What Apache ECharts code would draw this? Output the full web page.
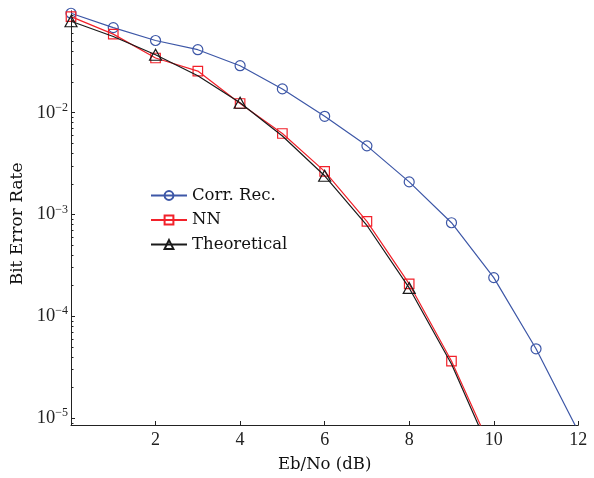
<!DOCTYPE html>
<html><head><meta charset="utf-8">
<script src="https://cdn.jsdelivr.net/npm/echarts@6/dist/echarts.min.js"></script>
<style>html,body{margin:0;padding:0;background:#fff}#c{width:594px;height:478px}</style>
</head><body><div id="c"></div>
<script>
// ---- data ----
const ebno = [0,1,2,3,4,5,6,7,8,9,10,11,12];
const corrRec = [0.0946,0.0684,0.0511,0.0415,0.0289,0.0171,0.0092,0.00472,0.00209,0.00083,0.00024,4.8e-5,7.4e-6];
const nn = [0.0877,0.059,0.0344,0.0256,0.0123,0.00624,0.00265,0.000857,0.000208,3.64e-5,4.4e-6];
const theory = [0.079,0.056,0.037,0.023,0.0125,0.0059,0.0024,0.00078,0.00019,3.4e-5,3.9e-6];
const theoryMarked = [0,2,4,6,8];
const xTickLabels = [2,4,6,8,10,12];
const yMajorTicks = [1e-5,1e-4,1e-3,1e-2];
const yMin = 8.57e-6, yMax = 0.1;

const minorTicks = [];
for (let k = -6; k <= -2; k++) {
  for (let m = 2; m <= 9; m++) {
    const v = m * Math.pow(10, k);
    if (v > yMin && v < yMax) minorTicks.push(v);
  }
}

const BLUE = '#3d57a7', RED = '#f2212a', BLACK = '#1a1a1a';
const SERIF = 'DejaVu Serif';
const TICKFONT = 'Liberation Serif';

const chart = echarts.init(document.getElementById('c'), null, {renderer: 'canvas'});
chart.setOption({
  animation: false,
  backgroundColor: '#fff',
  grid: {left: 71, right: 15.7, top: 10.8, bottom: 50.3, containLabel: false},
  legend: {
    orient: 'vertical', left: 150, top: 187, padding: 0, itemWidth: 36, itemHeight: 11, itemGap: 7.5,
    textStyle: {fontFamily: SERIF, fontSize: 16.5, color: '#111', lineHeight: 15},
    data: ['Corr. Rec.', 'NN', 'Theoretical']
  },
  xAxis: {
    type: 'value', min: 0, max: 12, interval: 2,
    name: 'Eb/No (dB)', nameLocation: 'middle', nameGap: 31,
    nameTextStyle: {fontFamily: SERIF, fontSize: 16.5, color: '#111'},
    axisLine: {show: true, lineStyle: {color: '#222', width: 1}},
    axisTick: {show: true, inside: true, length: 4, lineStyle: {color: '#222'}, customValues: xTickLabels},
    axisLabel: {fontFamily: TICKFONT, fontSize: 18, color: '#222', margin: 6, customValues: xTickLabels},
    splitLine: {show: false}
  },
  yAxis: [{
    type: 'log', logBase: 10, min: yMin, max: yMax,
    name: 'Bit Error Rate', nameLocation: 'middle', nameGap: 40,
    nameTextStyle: {fontFamily: SERIF, fontSize: 17, color: '#111', padding: [0, 12, 0, 0]},
    axisLine: {show: true, lineStyle: {color: '#222', width: 1}},
    axisTick: {show: true, inside: true, length: 4, lineStyle: {color: '#222'}, customValues: yMajorTicks},
    axisLabel: {
      margin: 3, customValues: yMajorTicks,
      formatter: function (v) {
        const e = Math.round(Math.log10(v));
        return '{b|10}{s|\u2212' + (-e) + '}';
      },
      rich: {
        b: {fontFamily: TICKFONT, fontSize: 18.5, color: '#222'},
        s: {fontFamily: TICKFONT, fontSize: 12, color: '#222', padding: [0, 0, 10, 0], verticalAlign: 'bottom'}
      }
    },
    splitLine: {show: false}
  }, {
    type: 'log', logBase: 10, min: yMin, max: yMax, position: 'left',
    axisLine: {show: false},
    axisTick: {show: true, inside: true, length: 2.5, lineStyle: {color: '#222'}, customValues: minorTicks},
    axisLabel: {show: false},
    splitLine: {show: false}
  }],
  series: [{
    name: 'Corr. Rec.', type: 'line', yAxisIndex: 0,
    data: ebno.map((x, i) => [x, corrRec[i]]),
    symbol: 'circle', symbolSize: 10,
    itemStyle: {color: 'rgba(255,255,255,0)', borderColor: BLUE, borderWidth: 1.2},
    lineStyle: {color: BLUE, width: 1.2},
    z: 2
  }, {
    name: 'NN', type: 'line', yAxisIndex: 0,
    data: nn.map((v, i) => [ebno[i], v]),
    symbol: 'rect', symbolSize: 9.5,
    itemStyle: {color: 'rgba(255,255,255,0)', borderColor: RED, borderWidth: 1.2},
    lineStyle: {color: RED, width: 1.2},
    z: 3
  }, {
    name: 'Theoretical', type: 'line', yAxisIndex: 0,
    data: theory.map((v, i) => theoryMarked.indexOf(ebno[i]) >= 0 ? {value: [ebno[i], v]} : {value: [ebno[i], v], symbol: 'none'}),
    symbol: 'triangle', symbolSize: [12, 11],
    itemStyle: {color: 'rgba(255,255,255,0)', borderColor: BLACK, borderWidth: 1.2},
    lineStyle: {color: BLACK, width: 1.2},
    z: 4
  }]
});
</script></body></html>
